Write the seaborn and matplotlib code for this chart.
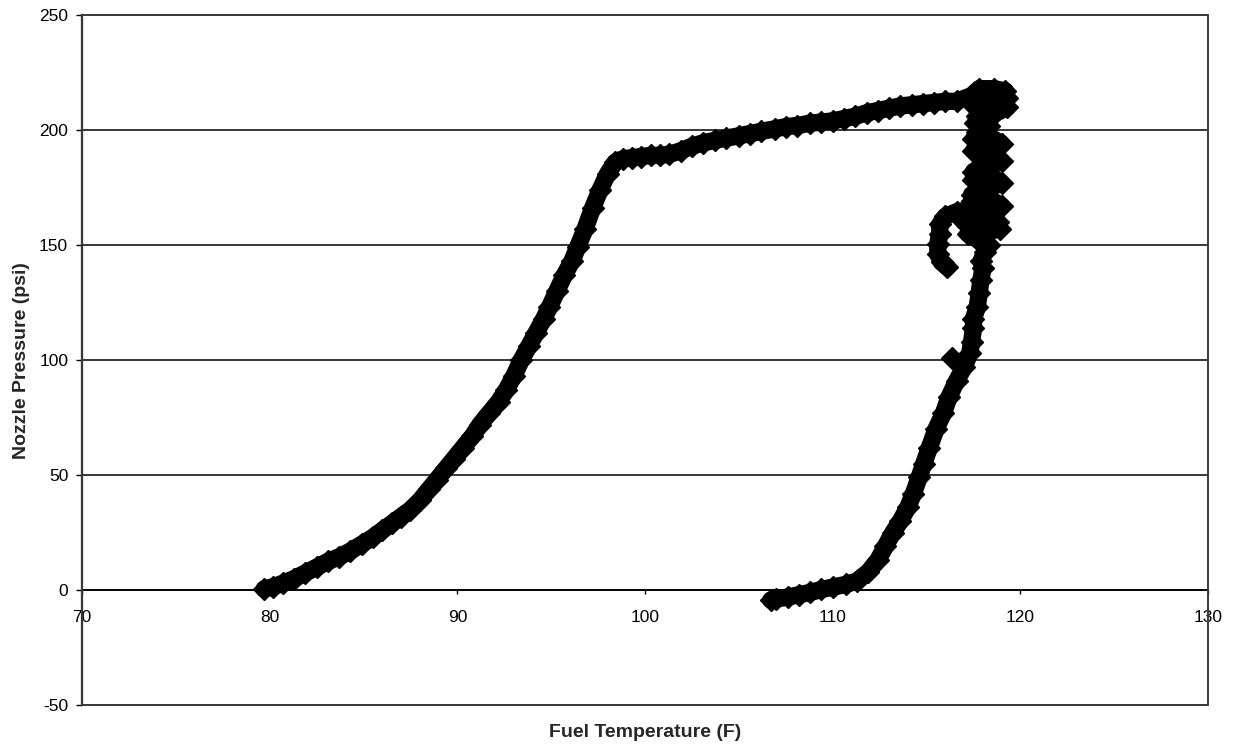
import pandas as pd
import matplotlib
matplotlib.use("Agg")
import matplotlib.pyplot as plt
from matplotlib.patches import Rectangle
import seaborn as sns

# Heating run: pressure builds with fuel temperature, plateaus near 210 psi,
# then wanders at peak temperature before the pressure starts to drop
heat_temp = [79.7, 80.2, 80.7, 81.3, 81.9, 82.5, 83.1, 83.7, 84.3, 84.9,
             85.5, 86.0, 86.5, 87.0, 87.5, 88.0, 88.5, 88.9, 89.4, 89.8,
             90.3, 90.8, 91.2, 91.7, 92.2, 92.6, 93.0, 93.4, 93.8, 94.2,
             94.6, 94.9, 95.3, 95.7, 96.1, 96.4, 96.8, 97.2, 97.6, 98.0,
             98.4, 98.8, 99.3, 99.8, 100.3, 100.8, 101.3, 101.9, 102.5, 103.1,
             103.7, 104.3, 105.0, 105.6, 106.2, 106.9, 107.5, 108.1, 108.8, 109.4,
             110.0, 110.6, 111.2, 111.8, 112.4, 113.0, 113.6, 114.2, 114.8, 115.4,
             116.0, 116.6, 117.4, 117.8, 118.6, 119.2, 119.3, 118.5, 117.6, 117.6,
             118.6, 119.3, 118.6, 117.7, 117.6, 118.3, 117.7, 117.5, 118.4, 119.0,
             118.2, 117.5, 117.9, 118.6, 119.0, 118.2, 117.5, 117.5, 118.4, 119.0,
             118.2, 117.4, 117.4, 118.4, 119.0, 118.3, 117.4, 116.6, 116.0, 115.7,
             115.7, 115.6, 115.6, 115.8, 116.1]
heat_press = [0.5, 1.5, 3, 5, 7.5, 10, 12.5, 14.5, 17, 20,
              23, 26, 29, 32, 35, 39, 44, 48, 53, 57,
              62, 67, 72, 77, 82, 87, 93, 100, 106, 112,
              118, 123, 130, 137, 143, 149, 157, 166, 174, 181,
              186, 187.5, 188, 188.5, 189, 189, 189.5, 191, 193, 194.5,
              195.5, 196.5, 197.5, 198.5, 199.5, 200.5, 201.5, 202, 203, 203.5,
              204, 205, 206, 207.5, 208.5, 209.5, 210.5, 211, 211.5, 212,
              212.5, 212.5, 215, 218, 218, 217, 214, 213.5, 213, 210,
              210.5, 210, 207, 206, 203, 202, 199, 196, 197, 194,
              192.5, 191, 188.5, 189, 186.5, 184, 182, 178.5, 180, 177,
              174.5, 172, 169, 170, 167, 165, 165.5, 164.5, 162.5, 159,
              155, 150.5, 146, 142.5, 140.5]

# Cool-down run: pressure bleeds off as the fuel cools back below 110 F
cool_temp = [117.0, 118.0, 118.8, 118.9, 118.0, 117.2, 117.8, 118.3, 118.1, 117.9,
             118.0, 117.9, 117.8, 117.7, 117.5, 117.5, 117.4, 117.3, 117.0, 116.6,
             116.2, 115.9, 115.5, 115.15, 114.85, 114.6, 114.3, 114.0, 113.6, 113.2,
             112.8, 112.4, 111.9, 111.3, 110.7, 110.0, 109.4, 108.8, 108.2, 107.6,
             107.0, 106.7]
cool_press = [160, 161, 160, 157, 155.5, 155, 152, 150, 147, 143,
              140, 135, 129, 123, 118, 114, 108, 103, 97, 91,
              84, 77, 70, 62, 55, 49, 42, 36, 30, 25,
              19, 13, 8, 4, 2.5, 1.3, 0.3, -1, -2, -3,
              -3.8, -4.3]

# Single stray reading during cool-down
stray_temp = [116.35]
stray_press = [101]

x_ticks = [70, 80, 90, 100, 110, 120, 130]
y_ticks = [-50, 0, 50, 100, 150, 200, 250]

runs = pd.concat([
    pd.DataFrame({"temp": heat_temp, "press": heat_press, "run": "heat"}),
    pd.DataFrame({"temp": cool_temp, "press": cool_press, "run": "cool"}),
    pd.DataFrame({"temp": stray_temp, "press": stray_press, "run": "stray"}),
], ignore_index=True)

sns.set_style("white")
plt.rcParams["font.family"] = ["Liberation Sans", "DejaVu Sans"]
plt.rcParams["axes.unicode_minus"] = False

fig = plt.figure(figsize=(12.34, 7.55), dpi=100)
ax = fig.add_axes([0.0665, 0.066, 0.9125, 0.914])

sns.lineplot(data=runs, x="temp", y="press", units="run", estimator=None,
             sort=False, color="black", lw=12.5, marker="D", markersize=11.5,
             markeredgecolor="black", markeredgewidth=1, ax=ax, zorder=3)

ax.set_xlim(x_ticks[0], x_ticks[-1])
ax.set_ylim(y_ticks[0], y_ticks[-1])
ax.set_xticks(x_ticks)
ax.set_yticks(y_ticks)
ax.yaxis.grid(True, color="black", lw=1.1)
ax.xaxis.grid(False)
ax.set_axisbelow(True)

# x axis crosses at zero pressure; plot area keeps its own border
ax.spines["bottom"].set_position(("data", 0))
ax.spines["bottom"].set_color("black")
ax.spines["bottom"].set_linewidth(1.3)
ax.spines["left"].set_color("black")
ax.spines["left"].set_linewidth(1.6)
ax.spines["top"].set_visible(False)
ax.spines["right"].set_visible(False)
ax.add_patch(Rectangle((0, 0), 1, 1, transform=ax.transAxes, fill=False,
                       ec="#3a3a3a", lw=1.4, clip_on=False, zorder=4))

ax.tick_params(axis="x", direction="out", length=3, width=1, pad=11,
               labelsize=12.5, colors="black", bottom=True)
ax.tick_params(axis="y", direction="out", length=4, width=1, pad=6,
               labelsize=12.5, colors="black", left=True)

ax.set_xlabel("Fuel Temperature (F)", fontsize=14, fontweight="bold", va="center")
ax.set_ylabel("Nozzle Pressure (psi)", fontsize=14, fontweight="bold", va="center")
ax.xaxis.set_label_coords(0.5, -0.039)
ax.yaxis.set_label_coords(-0.054, 0.5)

fig.savefig("out.png", dpi=100, facecolor="white")
